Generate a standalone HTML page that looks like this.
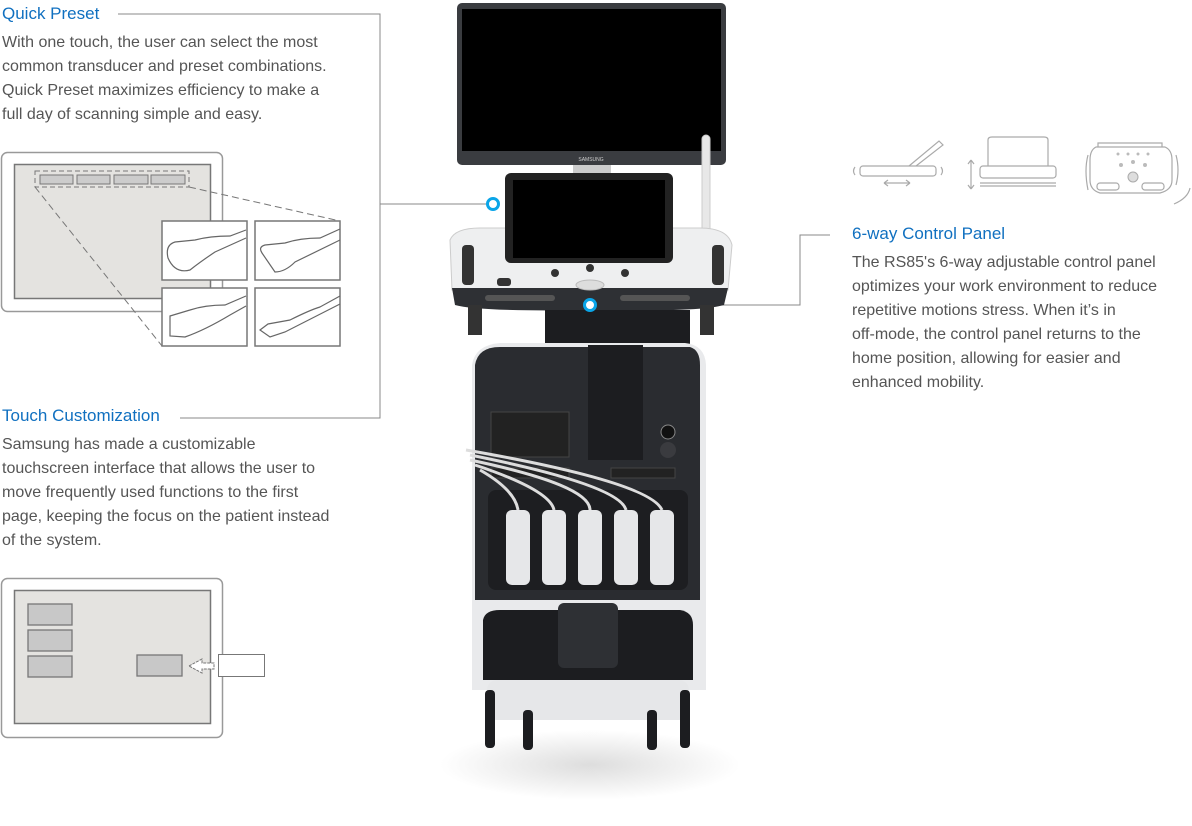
<!DOCTYPE html>
<html><head><meta charset="utf-8"><style>
body{margin:0;background:#fff;width:1192px;height:826px;overflow:hidden;position:relative;font-family:"Liberation Sans",sans-serif}
.t{position:absolute;color:#1070c0;font-size:17px}
.p{position:absolute;color:#555;font-size:16px;line-height:24px}
svg{position:absolute;left:0;top:0}
</style></head><body>
<svg width="1192" height="826" viewBox="0 0 1192 826">
<defs><radialGradient id="sh" cx="50%" cy="50%" r="50%"><stop offset="0" stop-color="#ddd"/><stop offset="1" stop-color="#fff"/></radialGradient></defs>
<g stroke="#888" fill="none" stroke-width="1">
<path d="M118 14H380V418H180"/><path d="M380 204H487"/><path d="M830 235H800V305H597"/>
</g>
<rect x="1.5" y="152.5" width="221" height="159" rx="6" fill="#fff" stroke="#999" stroke-width="1.5"/>
<rect x="14.5" y="164.5" width="196" height="134" fill="#e4e3e0" stroke="#777" stroke-width="1.5"/>
<rect x="35" y="171" width="154" height="16" fill="none" stroke="#777" stroke-dasharray="5,3"/>
<g fill="#ccc" stroke="#777"><rect x="40" y="175" width="33" height="9"/><rect x="77" y="175" width="33" height="9"/><rect x="114" y="175" width="34" height="9"/><rect x="151" y="175" width="34" height="9"/></g>
<g stroke="#777" fill="none" stroke-dasharray="7,4"><path d="M35 187L162 346"/><path d="M189 187L340 221"/></g>
<g fill="#fff" stroke="#777" stroke-width="1.5"><rect x="162" y="221" width="85" height="59"/><rect x="255" y="221" width="85" height="59"/><rect x="162" y="288" width="85" height="58"/><rect x="255" y="288" width="85" height="58"/></g>
<g fill="none" stroke="#666" stroke-width="1.2">
<path d="M246 230L230 236Q210 236 195 240L175 242Q165 245 168 258Q175 274 190 270Q200 262 215 252L246 238"/>
<path d="M340 229L320 238Q300 238 285 243L265 245Q258 247 262 253L275 272Q285 272 295 262L340 240"/>
<path d="M246 296L225 305Q205 305 190 310L170 316L170 336L185 337Q205 330 230 315L246 306"/>
<path d="M340 296L320 307Q310 310 290 320L268 324L260 330L270 337L285 332L340 304"/>
</g>
<rect x="1.5" y="578.5" width="221" height="159" rx="6" fill="#fff" stroke="#999" stroke-width="1.5"/>
<rect x="14.5" y="590.5" width="196" height="133" fill="#e4e3e0" stroke="#777" stroke-width="1.5"/>
<g fill="#c8c8c8" stroke="#777" stroke-width="1.3"><rect x="28" y="604" width="44" height="21"/><rect x="28" y="630" width="44" height="21"/><rect x="28" y="656" width="44" height="21"/><rect x="137" y="655" width="45" height="21"/></g>
<rect x="218.5" y="654.5" width="46" height="22" fill="#fff" stroke="#777"/>
<path d="M189 666L202 659V663H214V669H202V673Z" fill="#fff" stroke="#777" stroke-dasharray="3,1"/>
<g stroke="#aaa" fill="none" stroke-width="1.2">
<rect x="860" y="166" width="76" height="10" rx="3"/><path d="M855 167Q852 171 855 175M941 167Q944 171 941 175M909 166L939 141L943 145L916 166M884 183H910M884 183l4-3M884 183l4 3M910 183l-4-3M910 183l-4 3"/>
<rect x="980" y="166" width="76" height="12" rx="3"/><path d="M988 166V140Q988 137 992 137H1044Q1048 137 1048 140V166M980 183H1056M980 186H1056M971 160V189M971 160l-3 4M971 160l3 4M971 189l-3-4M971 189l3-4"/>
<path d="M1098 147V143H1162V147M1096 147H1165Q1172 150 1172 160V180Q1172 190 1160 193H1100Q1090 190 1090 180V160Q1090 150 1096 147Z"/>
<rect x="1097" y="183" width="22" height="7" rx="3"/><rect x="1142" y="183" width="22" height="7" rx="3"/>
<path d="M1088 155Q1084 170 1088 190M1176 155Q1180 170 1176 185M1190 188Q1188 198 1174 204"/>
</g>
<circle cx="1133" cy="177" r="5" fill="#ddd" stroke="#aaa"/>
<g fill="#bbb"><circle cx="1118" cy="154" r="1.5"/><circle cx="1128" cy="154" r="1.5"/><circle cx="1138" cy="154" r="1.5"/><circle cx="1148" cy="154" r="1.5"/><circle cx="1121" cy="165" r="2"/><circle cx="1133" cy="162" r="2"/><circle cx="1145" cy="165" r="2"/></g>
<ellipse cx="590" cy="765" rx="150" ry="35" fill="url(#sh)"/>
<rect x="457" y="3" width="269" height="162" rx="5" fill="#3a3c40"/>
<rect x="462" y="9" width="259" height="142" fill="#000"/>
<text x="591" y="161" font-size="5" fill="#ccc" text-anchor="middle">SAMSUNG</text>
<rect x="573" y="165" width="38" height="8" fill="#ccc"/>
<rect x="702" y="135" width="8" height="150" rx="4" fill="#e8e8e8" stroke="#ccc"/>
<path d="M450 240Q455 228 480 228H700Q728 228 732 245L728 290H452Z" fill="#eeeff0" stroke="#ccc"/>
<rect x="505" y="173" width="168" height="90" rx="6" fill="#222"/><rect x="513" y="180" width="152" height="78" fill="#000"/>
<path d="M452 288H728L724 305Q700 312 600 310Q480 312 455 305Z" fill="#2e3034"/>
<rect x="485" y="295" width="70" height="6" rx="3" fill="#555"/><rect x="620" y="295" width="70" height="6" rx="3" fill="#555"/>
<g fill="#333"><circle cx="555" cy="273" r="4"/><circle cx="625" cy="273" r="4"/><circle cx="590" cy="268" r="4"/><rect x="497" y="278" width="14" height="8" rx="3"/></g>
<ellipse cx="590" cy="285" rx="14" ry="5" fill="#ddd" stroke="#bbb"/>
<g fill="#333"><rect x="462" y="245" width="12" height="40" rx="4"/><rect x="712" y="245" width="12" height="40" rx="4"/><rect x="468" y="305" width="14" height="30"/><rect x="700" y="305" width="14" height="30"/></g>
<rect x="545" y="310" width="145" height="42" fill="#1c1d20"/>
<path d="M472 365Q475 345 500 343H685Q705 345 706 365V690H472Z" fill="#e9eaec"/>
<path d="M475 365Q478 347 500 347H690Q700 350 700 365V600H475Z" fill="#2a2c30"/>
<rect x="588" y="345" width="55" height="115" fill="#1c1d20"/>
<rect x="491" y="412" width="78" height="45" fill="#222" stroke="#444"/>
<circle cx="668" cy="432" r="7" fill="#111" stroke="#888"/><circle cx="668" cy="450" r="8" fill="#3a3b3f"/>
<rect x="491" y="468" width="78" height="10" fill="#222" stroke="#444"/><rect x="611" y="468" width="64" height="10" fill="#222" stroke="#444"/>
<rect x="488" y="490" width="200" height="100" rx="8" fill="#1d1e21"/>
<g fill="#e6e7e9"><rect x="506" y="510" width="24" height="75" rx="6"/><rect x="542" y="510" width="24" height="75" rx="6"/><rect x="578" y="510" width="24" height="75" rx="6"/><rect x="614" y="510" width="24" height="75" rx="6"/><rect x="650" y="510" width="24" height="75" rx="6"/></g>
<g stroke="#ddd" stroke-width="3" fill="none"><path d="M518 510Q515 490 480 470"/><path d="M554 510Q550 490 475 465"/><path d="M590 510Q590 485 470 460"/><path d="M626 510Q620 485 470 455"/><path d="M662 510Q650 482 466 450"/></g>
<path d="M483 620Q485 610 500 610H680Q693 612 693 625V680H483Z" fill="#1c1d20"/>
<rect x="558" y="603" width="60" height="65" rx="6" fill="#2e3034"/>
<rect x="487" y="680" width="202" height="40" rx="10" fill="#e6e7e9"/>
<g fill="#1c1d20"><rect x="485" y="690" width="10" height="58" rx="4"/><rect x="680" y="690" width="10" height="58" rx="4"/><rect x="523" y="710" width="10" height="40" rx="4"/><rect x="647" y="710" width="10" height="40" rx="4"/></g>
<circle cx="493" cy="204" r="5.5" fill="#fff" stroke="#0aa5e8" stroke-width="3"/>
<circle cx="590" cy="305" r="5.5" fill="#fff" stroke="#0aa5e8" stroke-width="3"/>
</svg>
<div class="t" style="left:2px;top:4px">Quick Preset</div>
<div class="p" style="left:2px;top:31px">With one touch, the user can select the most<br>common transducer and preset combinations.<br>Quick Preset maximizes efficiency to make a<br>full day of scanning simple and easy.</div>
<div class="t" style="left:2px;top:406px">Touch Customization</div>
<div class="p" style="left:2px;top:433px">Samsung has made a customizable<br>touchscreen interface that allows the user to<br>move frequently used functions to the first<br>page, keeping the focus on the patient instead<br>of the system.</div>
<div class="t" style="left:852px;top:224px">6-way Control Panel</div>
<div class="p" style="left:852px;top:251px">The RS85's 6-way adjustable control panel<br>optimizes your work environment to reduce<br>repetitive motions stress. When it’s in<br>off-mode, the control panel returns to the<br>home position, allowing for easier and<br>enhanced mobility.</div>
</body></html>
